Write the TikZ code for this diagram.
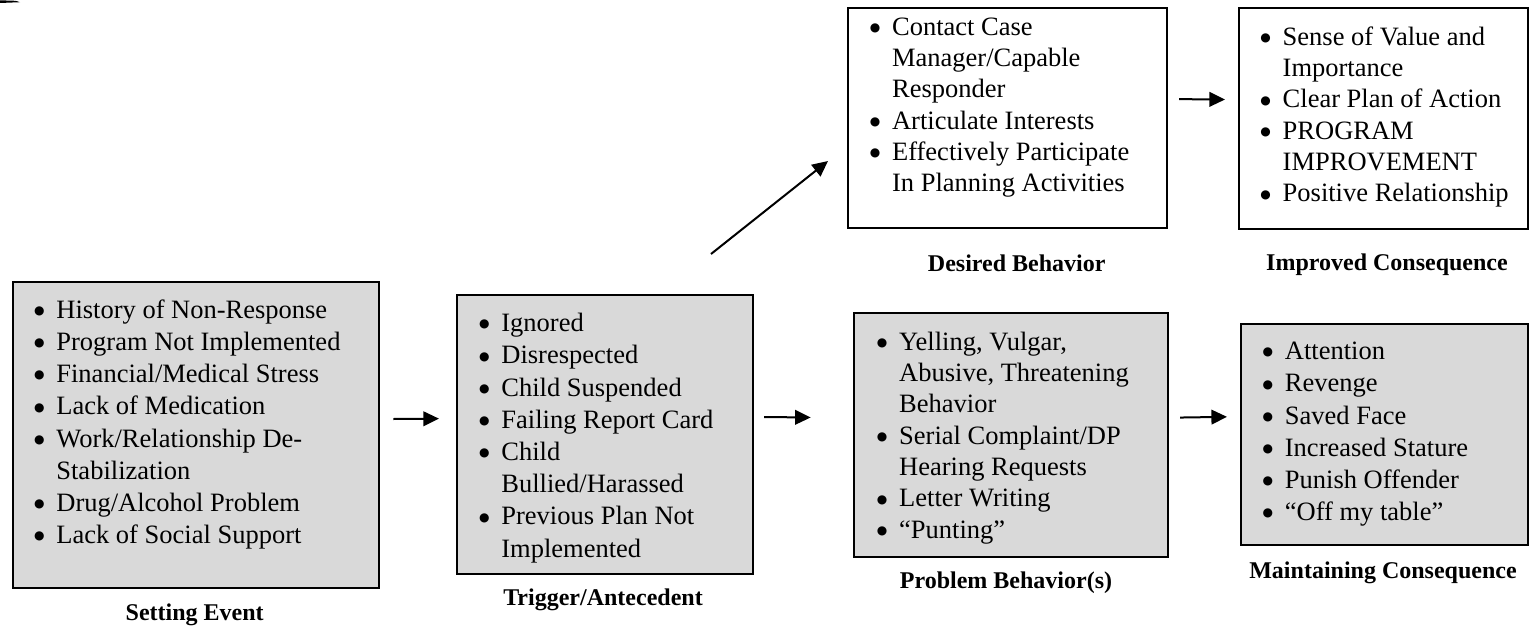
\documentclass[tikz,border=0pt]{standalone}
\usepackage{fontspec}
\setmainfont{Liberation Serif}
\newfontfamily\dotfont{DejaVu Sans}
\usetikzlibrary{arrows.meta,calc}

\definecolor{boxgray}{RGB}{217,217,217}
% bullet column of the item lists (a round dot set small and raised)
\newcommand\bul{\makebox[11.15pt][l]{\raisebox{1.9pt}{\fontsize{6pt}{6pt}\dotfont ●}}}

\tikzset{
  gbox/.style={draw=black, line width=1pt, fill=boxgray, inner sep=0pt, anchor=north west},
  wbox/.style={draw=black, line width=1pt, fill=white, inner sep=0pt, anchor=north west},
  blist/.style={inner sep=0pt, anchor=base west, align=left,
                font=\fontsize{13.25pt}{#1}\selectfont},
  blist/.default=16.1pt,
  lab/.style={inner sep=0pt, anchor=base, font=\bfseries\fontsize{12pt}{14pt}\selectfont},
  arr/.style={line width=1pt, -{Triangle[length=7.8pt,width=7.3pt]}},
}

\begin{document}
\begin{tikzpicture}[x=0.5pt,y=-0.5pt]
\useasboundingbox (0,0) rectangle (1530,626);

% small stroke in the upper left corner
\fill (0,0.4) -- (12,0.6) .. controls (17,1) .. (20,2.2) -- (0,3) -- cycle;

% ---- boxes ----
\node[gbox, minimum width=183.3pt, minimum height=153pt]   (set)   at (11.7,281)   {};
\node[gbox, minimum width=147.85pt, minimum height=139.65pt] (trig) at (456,294)   {};
\node[wbox, minimum width=159.65pt, minimum height=109.85pt] (des)  at (846.7,7.3) {};
\node[wbox, minimum width=144.8pt, minimum height=110.2pt]   (imp)  at (1237.7,7.3){};
\node[gbox, minimum width=157pt, minimum height=121.75pt]    (prob) at (853,312.3) {};
\node[gbox, minimum width=143.65pt, minimum height=110.65pt] (maint) at (1240,322.7){};

% ---- item lists ----
\node[blist] (settxt) at ($(set.north west)+(22,37.3)$) {%
\begin{tabular}[t]{@{}l@{}l@{}}
\bul & History of Non-Response\\
\bul & Program Not Implemented\\
\bul & Financial/Medical Stress\\
\bul & Lack of Medication\\
\bul & Work/Relationship De-\\
     & Stabilization\\
\bul & Drug/Alcohol Problem\\
\bul & Lack of Social Support
\end{tabular}};

\node[blist] (trigtxt) at ($(trig.north west)+(22.7,37.7)$) {%
\begin{tabular}[t]{@{}l@{}l@{}}
\bul & Ignored\\
\bul & Disrespected\\
\bul & Child Suspended\\
\bul & Failing Report Card\\
\bul & Child\\
     & Bullied/Harassed\\
\bul & Previous Plan Not\\
     & Implemented
\end{tabular}};

\node[blist=15.65pt] (destxt) at ($(des.north west)+(22.7,27.8)$) {%
\begin{tabular}[t]{@{}l@{}l@{}}
\bul & Contact Case\\
     & Manager/Capable\\
     & Responder\\
\bul & Articulate Interests\\
\bul & Effectively Participate\\
     & In Planning Activities
\end{tabular}};

\node[blist=15.65pt] (imptxt) at ($(imp.north west)+(22.3,38)$) {%
\begin{tabular}[t]{@{}l@{}l@{}}
\bul & Sense of Value and\\
     & Importance\\
\bul & Clear Plan of Action\\
\bul & PROGRAM\\
     & IMPROVEMENT\\
\bul & Positive Relationship
\end{tabular}};

\node[blist=15.65pt] (probtxt) at ($(prob.north west)+(23.5,38)$) {%
\begin{tabular}[t]{@{}l@{}l@{}}
\bul & Yelling, Vulgar,\\
     & Abusive, Threatening\\
     & Behavior\\
\bul & Serial Complaint/DP\\
     & Hearing Requests\\
\bul & Letter Writing\\
\bul & “Punting”
\end{tabular}};

\node[blist] (mainttxt) at ($(maint.north west)+(22.2,37)$) {%
\begin{tabular}[t]{@{}l@{}l@{}}
\bul & Attention\\
\bul & Revenge\\
\bul & Saved Face\\
\bul & Increased Stature\\
\bul & Punish Offender\\
\bul & “Off my table”
\end{tabular}};

% ---- captions ----
\node[lab] (setlab)   at (194.7,620)  {Setting Event};
\node[lab] (triglab)  at (603,605)    {Trigger/Antecedent};
\node[lab] (deslab)   at (1016.7,271.5) {Desired Behavior};
\node[lab] (implab)   at (1387,270)   {Improved Consequence};
\node[lab] (problab)  at (1006,588)   {Problem Behavior(s)};
\node[lab] (maintlab) at (1383,578)   {Maintaining Consequence};

% ---- arrows ----
\draw[arr] ($(set.east)+(13,-16)$)     -- ($(trig.west)+(-17,-16)$);
\draw[arr] ($(trig.east)+(10.3,-17.6)$) -- ($(prob.west)+(-42.3,-17.6)$);
\draw[arr] ($(prob.east)+(11,-17.5)$)  -- ($(maint.west)+(-13,-17.5)$);
\draw[arr] ($(trig.north east)+(-42.7,-40)$) -- ($(des.south west)+(-18.7,-68)$);
\draw[arr] ($(des.east)+(11,-19)$)     -- ($(imp.west)+(-12.7,-19)$);
\end{tikzpicture}
\end{document}
